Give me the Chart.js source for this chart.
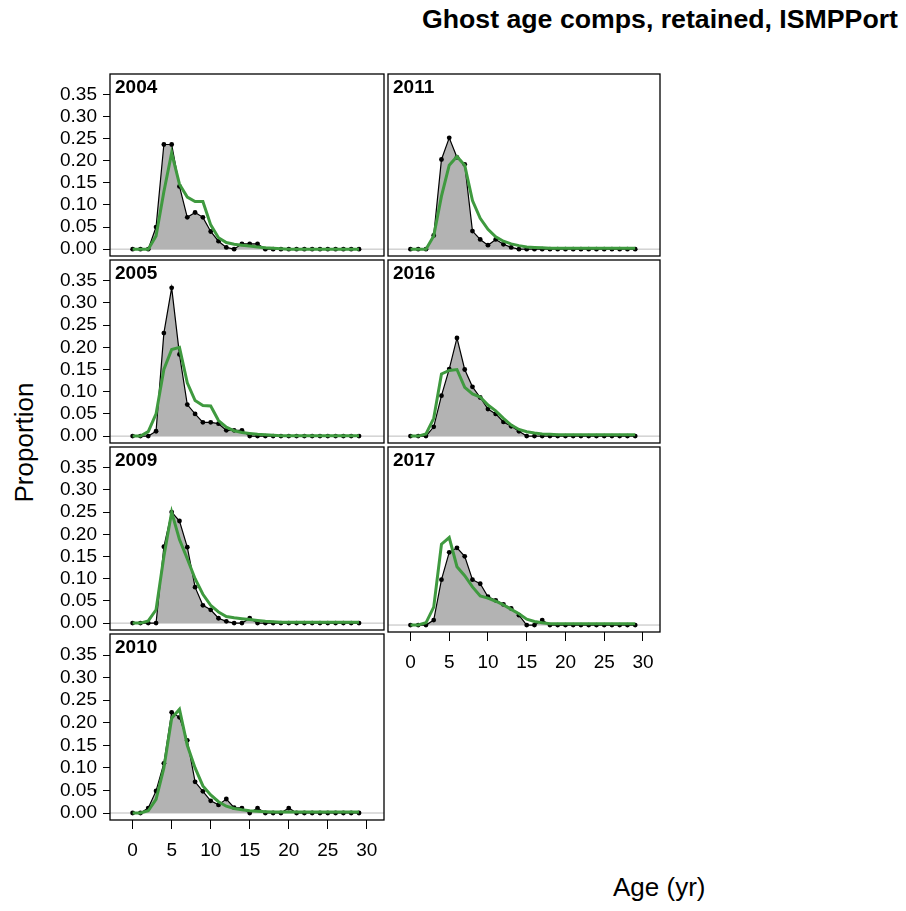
<!DOCTYPE html>
<html><head><meta charset="utf-8">
<script src="https://cdn.jsdelivr.net/npm/chart.js@4"></script>
<style>
body{margin:0;background:#fff;width:906px;height:911px;position:relative;overflow:hidden;font-family:"Liberation Sans",Arial,sans-serif}
canvas{position:absolute}
.t{position:absolute;white-space:nowrap;color:#000}
</style></head><body>
<div class="t" style="right:8px;top:4px;font-size:26.7px;font-weight:bold">Ghost age comps, retained, ISMPPort</div>
<div class="t" style="left:-35px;top:427px;font-size:26px;transform:rotate(-90deg)">Proportion</div>
<div class="t" style="left:613px;top:872px;font-size:26px">Age (yr)</div>
<script>
const ages = Array.from({length:30},(_, i)=>i);
const years = ['2004','2005','2009','2010','2011','2016','2017'];
const obs2004 = [0,0,0,0.05,0.237,0.237,0.142,0.072,0.083,0.072,0.04,0.018,0.004,0,0.012,0.012,0.012,0,0,0,0,0,0,0,0,0,0,0,0,0];
const exp2004 = [0,0,0,0.03,0.13,0.218,0.147,0.118,0.108,0.108,0.055,0.026,0.015,0.011,0.009,0.007,0.005,0.003,0.002,0.001,0,0,0,0,0,0,0,0,0,0];
const obs2005 = [0,0,0,0.011,0.232,0.334,0.184,0.071,0.05,0.031,0.031,0.028,0.013,0.013,0.013,0,0,0,0,0,0,0,0,0,0,0,0,0,0,0];
const exp2005 = [0,0,0.01,0.05,0.15,0.195,0.2,0.12,0.08,0.069,0.068,0.035,0.02,0.012,0.008,0.006,0.004,0.003,0.002,0.001,0.001,0.001,0.001,0.001,0.001,0.001,0.001,0.001,0.001,0.001];
const obs2009 = [0,0,0,0,0.172,0.25,0.23,0.171,0.081,0.04,0.03,0.011,0.004,0,0,0.011,0,0,0,0,0,0,0,0,0,0,0,0,0,0];
const exp2009 = [0,0,0.005,0.03,0.15,0.25,0.188,0.145,0.1,0.065,0.04,0.025,0.015,0.012,0.01,0.008,0.006,0.004,0.003,0.002,0.002,0.002,0.002,0.002,0.002,0.002,0.002,0.002,0.002,0.002];
const obs2010 = [0,0,0.011,0.049,0.11,0.223,0.212,0.161,0.069,0.048,0.027,0.018,0.031,0.012,0.011,0,0.011,0,0,0,0.011,0,0,0,0,0,0,0,0,0];
const exp2010 = [0,0,0.005,0.03,0.1,0.21,0.23,0.15,0.1,0.06,0.04,0.025,0.015,0.01,0.007,0.005,0.004,0.003,0.002,0.002,0.002,0.002,0.002,0.002,0.002,0.002,0.002,0.002,0.002,0.002];
const obs2011 = [0,0,0,0.031,0.203,0.252,0.208,0.192,0.041,0.022,0.009,0.022,0.011,0.004,0,0,0,0,0,0,0,0,0,0,0,0,0,0,0,0];
const exp2011 = [0,0,0,0.03,0.12,0.19,0.21,0.19,0.11,0.07,0.045,0.028,0.018,0.012,0.008,0.005,0.004,0.003,0.002,0.002,0.002,0.002,0.002,0.002,0.002,0.002,0.002,0.002,0.002,0.002];
const obs2016 = [0,0,0,0.021,0.091,0.151,0.221,0.15,0.111,0.087,0.061,0.05,0.032,0.022,0.011,0,0,0,0,0,0,0,0,0,0,0,0,0,0,0];
const exp2016 = [0,0,0.005,0.04,0.14,0.148,0.15,0.11,0.095,0.088,0.07,0.057,0.04,0.025,0.015,0.01,0.007,0.005,0.004,0.003,0.003,0.003,0.003,0.003,0.003,0.003,0.003,0.003,0.003,0.003];
const obs2017 = [0,0,0,0.011,0.101,0.162,0.172,0.153,0.101,0.092,0.063,0.055,0.046,0.037,0.022,0,0,0.011,0,0,0,0,0,0,0,0,0,0,0,0];
const exp2017 = [0,0,0.005,0.04,0.18,0.195,0.13,0.11,0.085,0.065,0.06,0.053,0.045,0.035,0.025,0.013,0.008,0.005,0.003,0.003,0.003,0.003,0.003,0.003,0.003,0.003,0.003,0.003,0.003,0.003];
const yTicks = [0,0.05,0.10,0.15,0.20,0.25,0.30,0.35];
const xTicks = [0,5,10,15,20,25,30];

const obsSets = {'2004':obs2004,'2005':obs2005,'2009':obs2009,'2010':obs2010,'2011':obs2011,'2016':obs2016,'2017':obs2017};
const expSets = {'2004':exp2004,'2005':exp2005,'2009':exp2009,'2010':exp2010,'2011':exp2011,'2016':exp2016,'2017':exp2017};
const panels = {
 '2004':[110,72,386,258,true,false],
 '2005':[110,258,386,445,true,false],
 '2009':[110,445,386,632,true,false],
 '2010':[110,632,386,820,true,true],
 '2011':[386,72,662,258,false,false],
 '2016':[386,258,662,445,false,false],
 '2017':[386,445,662,632,false,true]
};
const FONT = '"Liberation Sans", Arial, sans-serif';
const deco = {
 id:'deco',
 beforeDatasetsDraw(c){
  const a=c.chartArea, ctx=c.ctx, y0=c.scales.y.getPixelForValue(0);
  ctx.save(); ctx.strokeStyle='#bbb'; ctx.lineWidth=1;
  ctx.beginPath(); ctx.moveTo(a.left,y0); ctx.lineTo(a.right,y0); ctx.stroke(); ctx.restore();
 },
 afterDraw(c){
  const a=c.chartArea, ctx=c.ctx;
  ctx.save(); ctx.strokeStyle='#000'; ctx.lineWidth=1.3;
  ctx.strokeRect(a.left,a.top,a.right-a.left,a.bottom-a.top);
  ctx.fillStyle='#000'; ctx.font='bold 19px '+FONT; ctx.textBaseline='top';
  ctx.fillText(c.options.plugins.deco.label,a.left+5,a.top+4);
  ctx.restore();
 }
};
function zeroPad(s){s.paddingTop=0;s.paddingBottom=0;s.paddingLeft=0;s.paddingRight=0;}
years.forEach(yr=>{
 const [l,t,r,b,la,ba]=panels[yr];
 const cl = la ? 40 : l-2;
 const ct = t-2;
 const cw = r+2-cl;
 const ch = (ba ? b+60 : b+2)-ct;
 const cv=document.createElement('canvas');
 cv.width=cw; cv.height=ch;
 cv.style.left=cl+'px'; cv.style.top=ct+'px';
 cv.style.width=cw+'px'; cv.style.height=ch+'px';
 document.body.appendChild(cv);
 const obs=obsSets[yr], ex=expSets[yr];
 new Chart(cv,{
  type:'scatter',
  data:{datasets:[
   {data:ages.map((a,i)=>({x:a,y:obs[i]})),showLine:true,fill:'origin',backgroundColor:'#b3b3b3',borderColor:'#000',borderWidth:1.2,pointRadius:2.4,pointBackgroundColor:'#000',pointBorderWidth:0,order:2},
   {data:ages.map((a,i)=>({x:a,y:ex[i]})),showLine:true,fill:false,borderColor:'#3f9a3f',borderWidth:3,pointRadius:0,order:1}
  ]},
  options:{
   responsive:false,maintainAspectRatio:false,animation:false,devicePixelRatio:1,
   layout:{padding:{top:2,right:2,left:la?0:2,bottom:ba?0:2}},
   plugins:{legend:{display:false},tooltip:{enabled:false},deco:{label:yr}},
   scales:{
    x:{type:'linear',min:-2.9,max:32.2,display:ba,
       afterBuildTicks(s){s.ticks=xTicks.map(v=>({value:v}));},
       afterFit(s){s.height=ba?60:0;zeroPad(s);},
       grid:{drawOnChartArea:false,tickLength:9,color:'#000'},
       border:{display:false},
       ticks:{color:'#000',font:{size:19,family:FONT},padding:10,maxRotation:0,autoSkip:false}},
    y:{min:-0.0155,max:0.3966,display:la,
       afterBuildTicks(s){s.ticks=yTicks.map(v=>({value:v}));},
       afterFit(s){s.width=la?l-cl:0;zeroPad(s);},
       grid:{drawOnChartArea:false,tickLength:7,color:'#000'},
       border:{display:false},
       ticks:{color:'#000',font:{size:19,family:FONT},padding:6,autoSkip:false,callback:v=>v.toFixed(2)}}
   }
  },
  plugins:[deco]
 });
});
</script></body></html>
